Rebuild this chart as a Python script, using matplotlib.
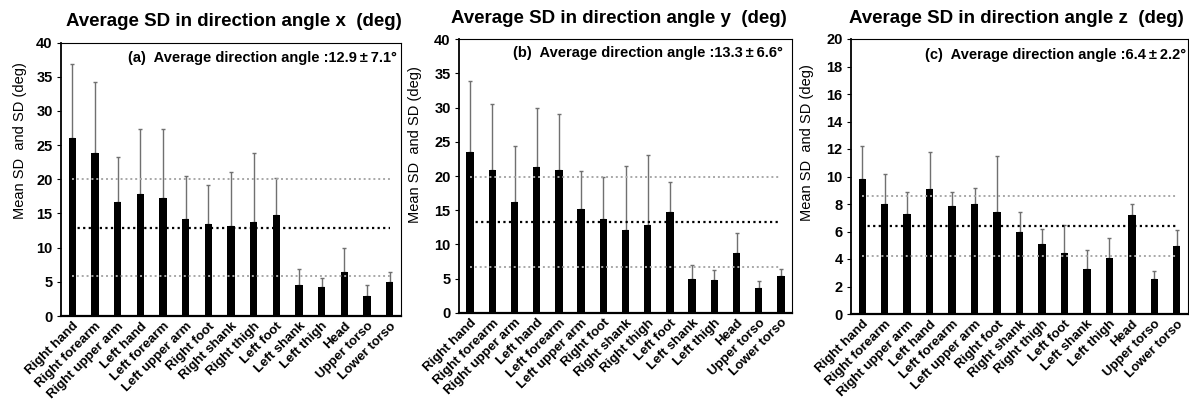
import matplotlib
matplotlib.use("Agg")
import matplotlib.pyplot as plt
import numpy as np

plt.rcParams["font.family"] = ["Liberation Sans", "DejaVu Sans"]

parts = ["Right hand", "Right forearm", "Right upper arm", "Left hand", "Left forearm",
         "Left upper arm", "Right foot", "Right shank", "Right thigh", "Left foot",
         "Left shank", "Left thigh", "Head", "Upper torso", "Lower torso"]

mean_x = [26.0, 23.8, 16.7, 17.9, 17.2, 14.2, 13.5, 13.1, 13.7, 14.7, 4.5, 4.2, 6.4, 2.9, 4.95]
sd_x = [10.9, 10.4, 6.5, 9.4, 10.1, 6.3, 5.7, 7.9, 10.1, 5.5, 2.4, 1.3, 3.6, 1.6, 1.45]

mean_y = [23.45, 20.9, 16.15, 21.3, 20.9, 15.2, 13.7, 12.15, 12.9, 14.7, 5.0, 4.8, 8.8, 3.6, 5.4]
sd_y = [10.45, 9.7, 8.25, 8.6, 8.2, 5.6, 6.2, 9.35, 10.2, 4.4, 2.0, 1.5, 2.8, 1.0, 1.0]

mean_z = [9.8, 8.0, 7.25, 9.1, 7.85, 8.0, 7.4, 6.0, 5.07, 4.47, 3.24, 4.1, 7.17, 2.56, 4.93]
sd_z = [2.4, 2.2, 1.65, 2.7, 1.05, 1.2, 4.1, 1.4, 1.1, 2.0, 1.45, 1.45, 0.85, 0.6, 1.15]

avg_angle = [12.9, 13.3, 6.4]
avg_sd = [7.1, 6.6, 2.2]
ymax = [40, 40, 20]
ystep = [5, 5, 2]
letters = ["a", "b", "c"]
axis_names = ["x", "y", "z"]

W, H = 1189, 401
fig = plt.figure(figsize=(W / 100, H / 100), dpi=100)


def px(x0, y_top, x1, y_bot):
    return [x0 / W, 1 - y_bot / H, (x1 - x0) / W, (y_bot - y_top) / H]


boxes = [px(61, 42.5, 401, 316), px(459, 39.3, 792, 312.7), px(851, 39, 1188, 314)]
title_pos = [(234, 21.5), (619, 18.5), (1016, 18.5)]
ylabel_pos = [(20, 141), (415, 145), (807, 143)]
note_pos = [(397, 58), (783, 53), (1186, 55)]

means = [mean_x, mean_y, mean_z]
sds = [sd_x, sd_y, sd_z]

for i in range(3):
    ax = fig.add_axes(boxes[i])
    xs = np.arange(len(parts))
    m = np.array(means[i])
    s = np.array(sds[i])
    ax.bar(xs, m, width=0.33, color="black", zorder=2)
    ax.errorbar(xs, m, yerr=[np.zeros_like(s), s], fmt="none", ecolor="#707070",
                elinewidth=1.0, capsize=1.5, capthick=1.0, zorder=1)

    mu, sd = avg_angle[i], avg_sd[i]
    ax.hlines(mu, 0, len(parts) - 1, colors="black", linestyles=(0, (1, 1.5)),
              linewidth=1.6, zorder=3)
    for v in (mu + sd, mu - sd):
        ax.hlines(v, 0, len(parts) - 1, colors="#a8a8a8", linestyles=(0, (1, 1.5)),
                  linewidth=1.4, zorder=3)

    ax.set_xlim(-0.5, len(parts) - 0.5)
    ax.set_ylim(0, ymax[i])
    ax.set_yticks(np.arange(0, ymax[i] + 0.1, ystep[i]))
    ax.set_xticks(xs)
    ax.set_xticklabels(parts, rotation=45, ha="right", rotation_mode="anchor",
                       fontsize=9.5, fontweight="bold")
    ax.tick_params(axis="x", length=0, pad=3)
    ax.tick_params(axis="y", length=3, width=0.8, direction="out", pad=3,
                   labelsize=10.5)
    for lab in ax.get_yticklabels():
        lab.set_fontweight("bold")

    ax.spines["left"].set_linewidth(1.3)
    ax.spines["bottom"].set_linewidth(1.6)
    ax.spines["top"].set_linewidth(0.8)
    ax.spines["right"].set_linewidth(0.8)

    tx, ty = title_pos[i]
    fig.text(tx / W, 1 - ty / H,
             f"Average SD in direction angle {axis_names[i]}  (deg)",
             ha="center", va="center", fontsize=13.5, fontweight="bold")
    lx, ly = ylabel_pos[i]
    fig.text(lx / W, 1 - ly / H, "Mean SD  and SD (deg)", rotation=90,
             ha="center", va="center", fontsize=10.5)
    nx, ny = note_pos[i]
    fig.text(nx / W, 1 - ny / H,
             f"({letters[i]})  Average direction angle :{mu}\u2009\u00b1\u2009{sd}\u00b0",
             ha="right", va="center", fontsize=10.5, fontweight="bold")

fig.savefig("out.png", dpi=100)
